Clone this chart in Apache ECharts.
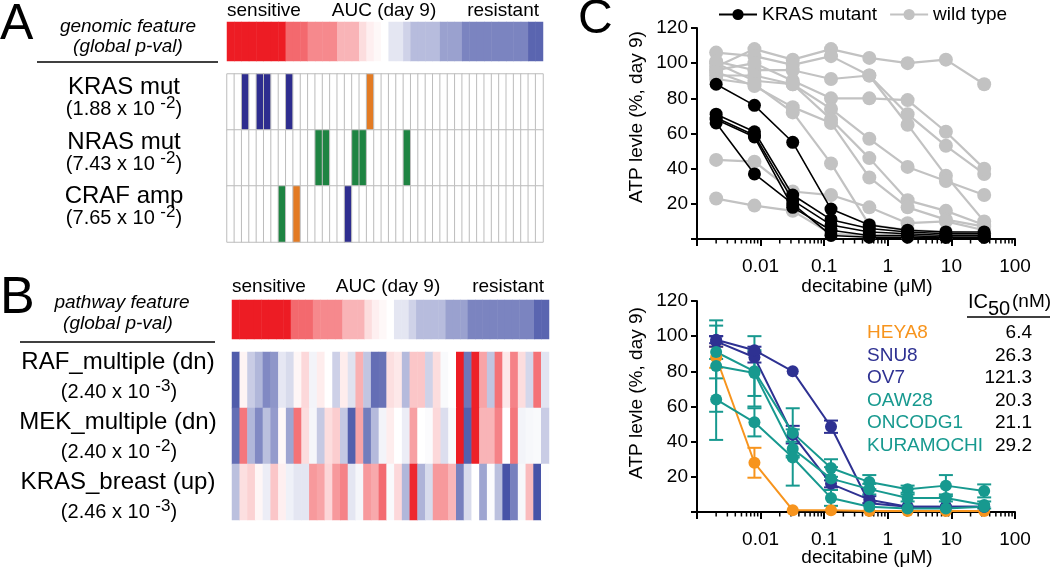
<!DOCTYPE html>
<html><head><meta charset="utf-8">
<script src="https://cdn.jsdelivr.net/npm/echarts@6/dist/echarts.min.js"></script>
<style>html,body{margin:0;padding:0;background:#fff}#c{width:1050px;height:570px}</style>
</head><body><div id="c"></div>
<script>
const FONT = "'Liberation Sans', Arial, Helvetica, sans-serif";

// ---------- Panel A / B data ----------
// AUC (day 9) colour bar: -1 = most sensitive (red), +1 = most resistant (blue)
const aucLevels = [-1,-1,-1,-1,-1,-1,-1,-1,-0.66,-0.66,-0.66,-0.52,-0.52,-0.52,-0.52,-0.33,-0.33,-0.33,-0.15,-0.07,-0.03,0,0.14,0.14,0.25,0.37,0.37,0.37,0.37,0.52,0.52,0.52,0.68,0.68,0.68,0.68,0.68,0.68,0.68,0.68,0.68,0.85,0.85];

const mutationFeatures = ['KRAS mut', 'NRAS mut', 'CRAF amp'];
const mutationPMantissa = ['1.88', '7.43', '7.65'];
const mutationPExponent = ['2', '2', '2'];
// 0 = none, 1 = blue, 2 = orange, 3 = green
const krasMut = [0,0,1,0,1,1,0,0,1,0, 0,0,0,0,0,0,0,0,0,2, 0,0,0,0,0,0,0,0,0,0, 0,0,0,0,0,0,0,0,0,0, 0,0,0];
const nrasMut = [0,0,0,0,0,0,0,0,0,0, 0,0,3,3,0,0,0,3,3,0, 0,0,0,0,3,0,0,0,0,0, 0,0,0,0,0,0,0,0,0,0, 0,0,0];
const crafAmp = [0,0,0,0,0,0,0,3,0,2, 0,0,0,0,0,0,1,0,0,0, 0,0,0,0,0,0,0,0,0,0, 0,0,0,0,0,0,0,0,0,0, 0,0,0];

const pathwayFeatures = ['RAF_multiple (dn)', 'MEK_multiple (dn)', 'KRAS_breast (up)'];
const pathwayPMantissa = ['2.40', '2.40', '2.46'];
const pathwayPExponent = ['3', '2', '3'];
const rafMultiple = [0.9,-0.05,0.28,0.4,0.65,0.58,0.13,0.2,-0.04,-0.17,0.06,-0.08,0,0.26,-0.08,0.16,-0.35,0.32,0.8,0.78,-0.14,-0.1,0.38,-0.25,-0.25,0.25,-0.15,0.03,0,-1,0.75,-0.98,-0.4,0.32,-0.62,-0.1,-0.55,-0.15,0.22,-0.62,0.15];
const mekMultiple = [0.8,-0.6,0.4,0.65,0.35,0.55,-0.03,0.5,-0.62,-0.15,0.05,0.3,-0.15,-0.22,0.3,0.88,-0.4,0.72,0.38,0.06,-0.08,0,0.1,-0.42,0,0.02,-0.17,0.18,0.03,-1,0.88,-0.98,-0.33,-0.33,-0.55,0,-0.6,0.06,0.04,0.03,0.28];
const krasBreast = [0.35,-0.14,-0.2,-0.04,0.1,-0.25,-0.07,0.08,0.14,0.14,-0.45,-0.4,-0.18,-0.45,-0.55,0.14,0.05,-0.45,-0.38,-0.65,0.03,-0.17,0.4,-0.95,0.42,0.2,-0.45,-0.45,-0.32,0.7,0.2,0,0.5,0.02,0.35,0.95,0.7,0.04,-0.3,0.95,0.01];

// ---------- Panel C data ----------
const doses = [0.002, 0.008, 0.032, 0.128, 0.512, 2.048, 8.192, 32.768];
const xTickLabels = ['', '0.01', '0.1', '1', '10', '100'];
const yTickLabels = ['', '20', '40', '60', '80', '100', '120'];

const krasMutantCurves = [
  [88, 76, 55, 17, 8, 5, 4, 4],
  [71, 61, 25, 11, 6, 4, 3, 3],
  [69, 59, 22, 8, 4, 3, 2, 2],
  [68, 58, 18, 5, 2, 2, 1, 1],
  [66, 37, 20, 2, 1, 1, 1, 1]
];
const wildTypeCurves = [
  [98, 108, 102, 108, 103, 100, 102, 88],
  [106, 104, 99, 104, 93, 71, 53, 37],
  [101, 96, 96, 91, 93, 65, 36, 10],
  [96, 100, 90, 80, 80, 79, 61, 40],
  [93, 93, 88, 74, 57, 41, 33, 25],
  [100, 90, 88, 68, 46, 22, 16, 8],
  [95, 87, 75, 66, 35, 18, 11, 7],
  [91, 88, 72, 43, 8, 5, 4, 3],
  [45, 44, 27, 25, 18, 9, 10, 5],
  [23, 19, 16, 3, 2, 2, 2, 3]
];

const cellLines = ['HEYA8', 'SNU8', 'OV7', 'OAW28', 'ONCODG1', 'KURAMOCHI'];
const ic50Values = ['6.4', '26.3', '121.3', '20.3', '21.1', '29.2'];
const heya8Mean = [88, 28, 1, 1, 0.5, 0.5, 0.5, 0.5];
const heya8Err  = [6, 8.5, 0.5, 0.5, 0.3, 0.3, 0.3, 0.3];
const snu8Mean  = [97, 88, 44, 16, 7, 3, 3, 3];
const snu8Err   = [3, 3, 5, 2, 2, 1, 1, 1];
const ov7Mean   = [98, 92, 80, 48.5, 5, 3, 3, 3];
const ov7Err    = [2, 2, 1.5, 3.5, 1.5, 1, 1, 1];
const oaw28Mean = [91, 80, 45, 25, 17, 13, 15, 12];
const oaw28Err  = [15, 20, 14, 5, 4, 2, 6, 3.7];
const oncodg1Mean = [83, 79, 36, 19, 13, 8, 8, 4];
const oncodg1Err  = [26, 13, 4, 6.5, 3, 2, 2, 2];
const kuramochiMean = [64, 51, 31, 8, 3, 2, 2, 3];
const kuramochiErr  = [23, 8, 16, 4.5, 1, 1, 1, 1];

const ORANGE = '#f7941d', NAVY = '#2e3192', TEAL = '#17998f';
const cellLineColors = [ORANGE, NAVY, NAVY, TEAL, TEAL, TEAL];
const cellLineMeans = [heya8Mean, snu8Mean, ov7Mean, oaw28Mean, oncodg1Mean, kuramochiMean];
const cellLineErrs = [heya8Err, snu8Err, ov7Err, oaw28Err, oncodg1Err, kuramochiErr];

// ---------- helpers ----------
function idx(n) { const a = []; for (let i = 0; i < n; i++) a.push(i); return a; }
function txt(x, y, text, size, extra) {
  return { type: 'text', x: x, y: y, silent: true, z: 10,
    style: Object.assign({ text: text, fill: '#000', fontSize: size, fontFamily: FONT,
      align: 'center', verticalAlign: 'middle' }, extra || {}) };
}
function pval(x, y, mant, exp) {
  return { type: 'text', x: x, y: y, silent: true, z: 10,
    style: { text: '{n|(' + mant + ' x 10 }{s|-' + exp + '}{n|)}', align: 'center', verticalAlign: 'middle',
      rich: {
        n: { fontSize: 20, fontFamily: FONT, lineHeight: 28, fill: '#000', color: '#000' },
        s: { fontSize: 17, fontFamily: FONT, lineHeight: 16, verticalAlign: 'top', fill: '#000', color: '#000' }
      } } };
}
function hline(x1, x2, y) {
  return { type: 'line', silent: true, shape: { x1: x1, y1: y, x2: x2, y2: y }, style: { stroke: '#000', lineWidth: 1.5 } };
}

const minorTickValues = [];
for (let e = -3; e < 2; e++) for (let m = 2; m <= 9; m++) minorTickValues.push(m * Math.pow(10, e));

function minorTickSeries(axisIdx) {
  return { type: 'custom', xAxisIndex: axisIdx, yAxisIndex: axisIdx, silent: true, z: 1,
    data: minorTickValues.map(v => [v, 0]),
    renderItem: function (params, api) {
      const p = api.coord([api.value(0), 0]);
      return { type: 'line', shape: { x1: p[0], y1: p[1], x2: p[0], y2: p[1] + 4.5 }, style: { stroke: '#000', lineWidth: 1.5 } };
    } };
}

function errorBarSeries(means, errs, color) {
  return { type: 'custom', xAxisIndex: 5, yAxisIndex: 5, silent: true, z: 3,
    data: doses.map((d, i) => [d, means[i], errs[i]]),
    renderItem: function (params, api) {
      const x = api.value(0), m = api.value(1), e = api.value(2);
      if (e < 2) return null;
      const hi = api.coord([x, m + e]);
      const lo = api.coord([x, Math.max(m - e, 0)]);
      const w = 7, st = { stroke: color, lineWidth: 2 };
      return { type: 'group', children: [
        { type: 'line', shape: { x1: hi[0], y1: hi[1], x2: lo[0], y2: lo[1] }, style: st },
        { type: 'line', shape: { x1: hi[0] - w, y1: hi[1], x2: hi[0] + w, y2: hi[1] }, style: st },
        { type: 'line', shape: { x1: lo[0] - w, y1: lo[1], x2: lo[0] + w, y2: lo[1] }, style: st }
      ] };
    } };
}

function logXAxis(gi) {
  return { type: 'log', gridIndex: gi, logBase: 10, min: 0.001, max: 100,
    axisLine: { show: true, onZero: false, lineStyle: { color: '#000', width: 2 } },
    axisTick: { show: true, length: 7, lineStyle: { color: '#000', width: 2 } },
    axisLabel: { color: '#000', fontSize: 19, fontFamily: FONT, margin: 18,
      formatter: v => xTickLabels[Math.round(Math.log10(v)) + 3] || '' },
    splitLine: { show: false }, minorTick: { show: false }, minorSplitLine: { show: false } };
}
function valYAxis(gi) {
  return { type: 'value', gridIndex: gi, min: 0, max: 120, interval: 20,
    axisLine: { show: true, onZero: false, lineStyle: { color: '#000', width: 2 } },
    axisTick: { show: true, length: 6, lineStyle: { color: '#000', width: 2 } },
    axisLabel: { color: '#000', fontSize: 19, fontFamily: FONT, margin: 9,
      formatter: v => yTickLabels[Math.round(v / 20)] },
    splitLine: { show: false } };
}
function hiddenCat(gi, data, inverse) {
  return { type: 'category', gridIndex: gi, data: data, show: false, inverse: !!inverse,
    axisLine: { show: false }, axisTick: { show: false }, axisLabel: { show: false }, splitLine: { show: false } };
}

// ---------- series ----------
const series = [];
series.push({ type: 'heatmap', xAxisIndex: 0, yAxisIndex: 0, silent: true, emphasis: { disabled: true },
  data: aucLevels.map((v, i) => [i, 0, v]) });
series.push({ type: 'heatmap', xAxisIndex: 1, yAxisIndex: 1, silent: true, emphasis: { disabled: true },
  itemStyle: { borderColor: '#bdbdbd', borderWidth: 1 },
  data: [krasMut, nrasMut, crafAmp].flatMap((row, r) => row.map((v, i) => [i, r, v])) });
series.push({ type: 'heatmap', xAxisIndex: 2, yAxisIndex: 2, silent: true, emphasis: { disabled: true },
  data: aucLevels.map((v, i) => [i, 0, v]) });
series.push({ type: 'heatmap', xAxisIndex: 3, yAxisIndex: 3, silent: true, emphasis: { disabled: true },
  data: [rafMultiple, mekMultiple, krasBreast].flatMap((row, r) => row.map((v, i) => [i, r, v])) });

wildTypeCurves.forEach(c => series.push({ type: 'line', name: 'wild type', xAxisIndex: 4, yAxisIndex: 4,
  data: doses.map((d, i) => [d, c[i]]), symbol: 'circle', symbolSize: 14, silent: true, z: 2,
  lineStyle: { color: '#c2c2c2', width: 2.2 }, itemStyle: { color: '#c2c2c2' }, emphasis: { disabled: true } }));
krasMutantCurves.forEach(c => series.push({ type: 'line', name: 'KRAS mutant', xAxisIndex: 4, yAxisIndex: 4,
  data: doses.map((d, i) => [d, c[i]]), symbol: 'circle', symbolSize: 13, silent: true, z: 3,
  lineStyle: { color: '#000', width: 1.6 }, itemStyle: { color: '#000' }, emphasis: { disabled: true } }));
series.push(minorTickSeries(4));
series.push(minorTickSeries(5));

cellLines.forEach((name, k) => {
  series.push(errorBarSeries(cellLineMeans[k], cellLineErrs[k], cellLineColors[k]));
  series.push({ type: 'line', name: name, xAxisIndex: 5, yAxisIndex: 5, silent: true, z: 3,
    data: doses.map((d, i) => [d, cellLineMeans[k][i]]), symbol: 'circle', symbolSize: 12,
    lineStyle: { color: cellLineColors[k], width: 2 }, itemStyle: { color: cellLineColors[k] },
    emphasis: { disabled: true } });
});

// ---------- texts ----------
const g = [];
g.push(txt(0, 25, 'A', 50, { align: 'left' }));
g.push(txt(0, 299, 'B', 52, { align: 'left' }));
g.push(txt(578, 20, 'C', 48, { align: 'left' }));

g.push(txt(227, 11, 'sensitive', 19, { align: 'left' }));
g.push(txt(384, 11, 'AUC (day 9)', 19));
g.push(txt(539, 11, 'resistant', 19, { align: 'right' }));
g.push(txt(128, 27, 'genomic feature', 19, { fontStyle: 'italic' }));
g.push(txt(128, 47, '(global p-val)', 19, { fontStyle: 'italic' }));
g.push(hline(37, 218, 62));
const mutLabelY = [87, 142, 196];
mutationFeatures.forEach((f, i) => {
  g.push(txt(124, mutLabelY[i], f, 24));
  g.push(pval(124, mutLabelY[i] + 22, mutationPMantissa[i], mutationPExponent[i]));
});

g.push(txt(232, 287, 'sensitive', 19, { align: 'left' }));
g.push(txt(388, 287, 'AUC (day 9)', 19));
g.push(txt(544, 287, 'resistant', 19, { align: 'right' }));
g.push(txt(122, 303, 'pathway feature', 19, { fontStyle: 'italic' }));
g.push(txt(118, 324, '(global p-val)', 19, { fontStyle: 'italic' }));
g.push(hline(20, 215, 342));
const pathLabelY = [362, 422, 482];
pathwayFeatures.forEach((f, i) => {
  g.push(txt(118, pathLabelY[i], f, 24));
  g.push(pval(119, pathLabelY[i] + 30, pathwayPMantissa[i], pathwayPExponent[i]));
});

g.push(Object.assign(txt(637, 117, 'ATP levle (%, day 9)', 19), { rotation: Math.PI / 2 }));
g.push(Object.assign(txt(637, 393, 'ATP levle (%, day 9)', 19), { rotation: Math.PI / 2 }));
g.push(txt(867, 287, 'decitabine (\u03bcM)', 19));
g.push(txt(867, 558, 'decitabine (\u03bcM)', 19));

g.push(txt(968, 302, 'IC', 20, { align: 'left' }));
g.push(txt(988, 309, '50', 20, { align: 'left' }));
g.push(txt(1012, 302, '(nM)', 19, { align: 'left' }));
g.push(hline(967, 1050, 317));
cellLines.forEach((n, k) => {
  const y = 333 + k * 22.5;
  g.push(txt(867, y, n, 19, { align: 'left', fill: cellLineColors[k] }));
  g.push(txt(1032, y, ic50Values[k], 19, { align: 'right' }));
});

const option = {
  animation: false,
  backgroundColor: '#fff',
  textStyle: { fontFamily: FONT },
  grid: [
    { left: 227, top: 22, width: 316, height: 39, outerBoundsMode: 'none' },
    { left: 227, top: 74, width: 316, height: 168, outerBoundsMode: 'none' },
    { left: 232, top: 300, width: 317, height: 39, outerBoundsMode: 'none' },
    { left: 232, top: 352, width: 317, height: 168, outerBoundsMode: 'none' },
    { left: 697, top: 28, width: 318, height: 211, outerBoundsMode: 'none' },
    { left: 697, top: 301, width: 318, height: 211, outerBoundsMode: 'none' }
  ],
  xAxis: [
    hiddenCat(0, idx(aucLevels.length)),
    hiddenCat(1, idx(krasMut.length)),
    hiddenCat(2, idx(aucLevels.length)),
    hiddenCat(3, idx(rafMultiple.length)),
    logXAxis(4), logXAxis(5)
  ],
  yAxis: [
    hiddenCat(0, ['AUC']),
    hiddenCat(1, mutationFeatures, true),
    hiddenCat(2, ['AUC']),
    hiddenCat(3, pathwayFeatures, true),
    valYAxis(4), valYAxis(5)
  ],
  visualMap: [
    { type: 'continuous', show: false, seriesIndex: [0, 2, 3], dimension: 2, min: -1, max: 1,
      inRange: { color: ['#ed1c24', '#ffffff', '#3d4aa2'] } },
    { type: 'piecewise', show: false, seriesIndex: 1, dimension: 2,
      pieces: [{ value: 0, color: '#ffffff' }, { value: 1, color: '#2e2d8f' }, { value: 2, color: '#e37b24' }, { value: 3, color: '#1e8442' }] }
  ],
  legend: { data: ['KRAS mutant', 'wild type'], left: 713, top: 0, itemWidth: 38, itemHeight: 14, itemGap: 12,
    selectedMode: false, textStyle: { fontSize: 19, color: '#000', fontFamily: FONT } },
  series: series,
  graphic: g
};

const chart = echarts.init(document.getElementById('c'), null, { renderer: 'canvas' });
chart.setOption(option);
</script></body></html>
